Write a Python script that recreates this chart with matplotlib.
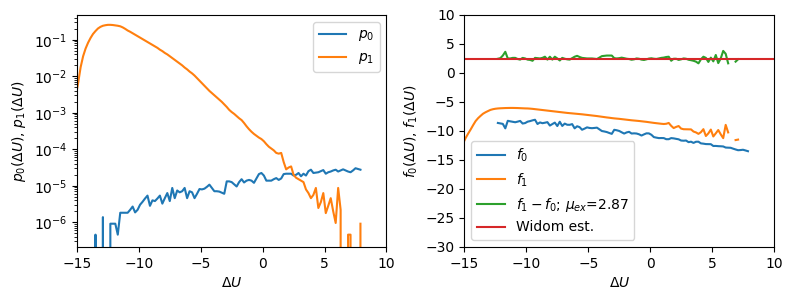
import numpy as np
import matplotlib
matplotlib.use('Agg')
import matplotlib.pyplot as plt

# bin centres of the Delta U histograms
dU = np.round(np.arange(-15.1, 7.95, 0.2), 1)

# log10 of the histograms (None = empty bin)
log_p0 = [None, None, None, None, None, None, None, None, -6.34, None,
          None, -5.86, None, None, -6.04, -6.04, -6.04, -6.34, -5.74, -5.74,
          -5.74, -5.74, -5.66, -5.57, -5.73, -5.66, -5.52, -5.44, -5.35, -5.27,
          -5.55, -5.40, -5.42, -5.35, -5.27, -5.49, -5.34, -5.20, -5.42, -5.06,
          -5.34, -5.13, -5.18, -5.15, -5.06, -5.34, -5.15, -5.18, -5.34, -5.22,
          -5.09, -5.10, -5.08, -5.03, -4.97, -5.06, -5.15, -5.15, -5.16, -5.19,
          -5.22, -4.88, -4.88, -4.90, -4.96, -5.02, -4.90, -4.82, -4.91, -4.86,
          -4.84, -4.86, -4.92, -4.80, -4.68, -4.65, -4.72, -4.86, -4.86, -4.86,
          -4.82, -4.79, -4.84, -4.80, -4.68, -4.67, -4.67, -4.67, -4.72, -4.70,
          -4.65, -4.74, -4.67, -4.72, -4.60, -4.56, -4.65, -4.64, -4.63, -4.60,
          -4.57, -4.67, -4.63, -4.61, -4.58, -4.56, -4.61, -4.58, -4.55, -4.58,
          -4.61, -4.63, -4.58, -4.52, -4.54, -4.56]

log_p1 = [-2.55, -2.18, -1.75, -1.45, -1.24, -1.08, -0.95, -0.84, -0.76, -0.69,
          -0.645, -0.615, -0.60, -0.59, -0.59, -0.595, -0.605, -0.615, -0.63, -0.66,
          -0.70, -0.745, -0.78, -0.82, -0.86, -0.90, -0.94, -0.98, -1.02, -1.06,
          -1.10, -1.14, -1.18, -1.22, -1.27, -1.31, -1.36, -1.40, -1.45, -1.50,
          -1.55, -1.60, -1.65, -1.70, -1.76, -1.81, -1.87, -1.92, -1.98, -2.05,
          -2.12, -2.19, -2.26, -2.33, -2.40, -2.46, -2.52, -2.58, -2.64, -2.70,
          -2.77, -2.84, -2.92, -2.98, -3.03, -3.09, -3.15, -3.20, -3.28, -3.37,
          -3.45, -3.52, -3.58, -3.63, -3.68, -3.72, -3.78, -3.86, -3.93, -3.98,
          -4.03, -4.10, -4.12, -4.10, -4.35, -4.55, -4.50, -4.47, -4.70, -4.78,
          -4.82, -4.86, -4.90, -5.10, -5.20, -5.34, -5.25, -5.06, -5.61, -5.45,
          -5.20, -5.75, -5.55, -5.34, -5.70, -6.02, -5.06, -5.66, None, None,
          -6.34, -6.34, None, None, None, -6.04]

# right panel (None = undefined)
f0 = [None, None, None, None, None, None, None, None, None, None,
      None, None, None, None, -8.62, -8.70, -8.78, -9.55, -8.25, -8.34,
      -8.42, -8.50, -8.39, -8.27, -8.72, -8.64, -8.40, -8.30, -8.17, -8.07,
      -8.80, -8.53, -8.66, -8.58, -8.48, -9.07, -8.81, -8.56, -9.15, -8.41,
      -9.14, -8.73, -8.93, -8.94, -8.82, -9.55, -9.19, -9.34, -9.79, -9.60,
      -9.38, -9.48, -9.52, -9.48, -9.43, -9.72, -10.01, -10.09, -10.19, -10.35,
      -10.50, -9.80, -9.88, -10.00, -10.23, -10.45, -10.25, -10.15, -10.44, -10.41,
      -10.44, -10.57, -10.79, -10.59, -10.41, -10.42, -10.66, -11.06, -11.15, -11.23,
      -11.22, -11.23, -11.42, -11.42, -11.23, -11.28, -11.36, -11.44, -11.65, -11.68,
      -11.65, -11.93, -11.85, -12.06, -11.86, -11.85, -12.14, -12.19, -12.26, -12.27,
      -12.28, -12.59, -12.58, -12.62, -12.64, -12.67, -12.86, -12.88, -12.90, -13.05,
      -13.19, -13.32, -13.29, -13.24, -13.36, -13.49]

f1 = [-12.1, -11.2, -10.45, -9.75, -9.0, -8.3, -7.8, -7.4, -7.03, -6.78,
      -6.57, -6.37, -6.25, -6.17, -6.12, -6.09, -6.07, -6.05, -6.04, -6.03,
      -6.03, -6.04, -6.05, -6.07, -6.09, -6.11, -6.12, -6.15, -6.19, -6.24,
      -6.29, -6.34, -6.39, -6.44, -6.49, -6.54, -6.59, -6.64, -6.69, -6.74,
      -6.79, -6.84, -6.89, -6.93, -6.97, -7.01, -7.05, -7.09, -7.13, -7.18,
      -7.23, -7.28, -7.33, -7.38, -7.43, -7.49, -7.55, -7.61, -7.67, -7.72,
      -7.78, -7.83, -7.87, -7.91, -7.96, -8.01, -8.06, -8.11, -8.16, -8.20,
      -8.24, -8.28, -8.33, -8.38, -8.43, -8.49, -8.55, -8.61, -8.66, -8.71,
      -8.76, -8.80, -8.76, -8.62, -9.12, -9.50, -9.30, -9.15, -9.59, -9.70,
      -9.71, -9.72, -9.73, -10.10, -10.25, -10.50, -10.21, -9.69, -10.87, -10.42,
      -9.76, -10.95, -10.41, -9.84, -10.58, -11.24, -8.95, -10.25, None, None,
      -11.57, -11.49, None, None, None, -11.3]

df = [None, None, None, None, None, None, None, None, None, None,
      None, None, None, None, 2.45, 2.55, 3.0, 3.65, 2.5, 2.5,
      2.6, 2.6, 2.4, 2.3, 2.6, 2.5, 2.3, 2.25, 2.1, 2.6,
      2.55, 2.5, 2.6, 2.8, 2.3, 2.8, 2.3, 2.8, 2.5, 2.15,
      2.6, 2.45, 2.35, 2.3, 2.55, 2.8, 2.95, 2.75, 2.6, 2.55,
      2.5, 2.5, 2.5, 2.45, 2.4, 2.65, 2.9, 2.95, 3.0, 3.0,
      3.0, 2.55, 2.5, 2.55, 2.64, 2.55, 2.45, 2.4, 2.28, 2.35,
      2.5, 2.45, 2.3, 2.24, 2.35, 2.48, 2.53, 2.45, 2.41, 2.5,
      2.6, 2.65, 2.75, 2.8, 2.1, 2.45, 2.45, 2.25, 2.35, 2.5,
      2.45, 2.28, 2.2, 2.1, 1.95, 1.66, 2.35, 2.8, 2.6, 1.9,
      2.64, 2.0, 3.1, 1.7, 2.5, 3.8, 3.3, 1.66, None, None,
      1.95, 2.35, None, None, None, 2.4]

mu_ex = 2.87
widom = 2.41


def to_prob(logs):
    # empty bins -> 0, which the log axis clips to the bottom
    return np.array([0.0 if v is None else 10.0 ** v for v in logs])


def to_arr(vals):
    return np.array([np.nan if v is None else v for v in vals])


def plot_dist():
    fig, (ax1, ax2) = plt.subplots(1, 2, figsize=(7.93, 2.99), dpi=100)
    fig.subplots_adjust(left=0.097, right=0.976, bottom=0.174, top=0.95, wspace=0.252)

    ax1.plot(dU, to_prob(log_p0), label='$p_0$')
    ax1.plot(dU, to_prob(log_p1), label='$p_1$')
    ax1.set_yscale('log')
    ax1.set_xlim(-15, 10)
    ax1.set_ylim(2.1e-7, 0.48)
    ax1.set_xlabel(r'$\Delta U$')
    ax1.set_ylabel(r'$p_0(\Delta U)$, $p_1(\Delta U)$')
    ax1.legend(loc='upper right')

    ax2.plot(dU, to_arr(f0), label='$f_0$')
    ax2.plot(dU, to_arr(f1), label='$f_1$')
    ax2.plot(dU, to_arr(df), label=r'$f_1 - f_0$; $\mu_{ex}$=%.2f' % mu_ex)
    ax2.axhline(widom, color='C3', label='Widom est.')
    ax2.set_xlim(-15, 10)
    ax2.set_ylim(-30, 10)
    ax2.set_xlabel(r'$\Delta U$')
    ax2.set_ylabel(r'$f_0(\Delta U)$, $f_1(\Delta U)$')
    ax2.legend(loc='lower left')

    fig.savefig('out.png')


if __name__ == "__main__":
    plot_dist()
